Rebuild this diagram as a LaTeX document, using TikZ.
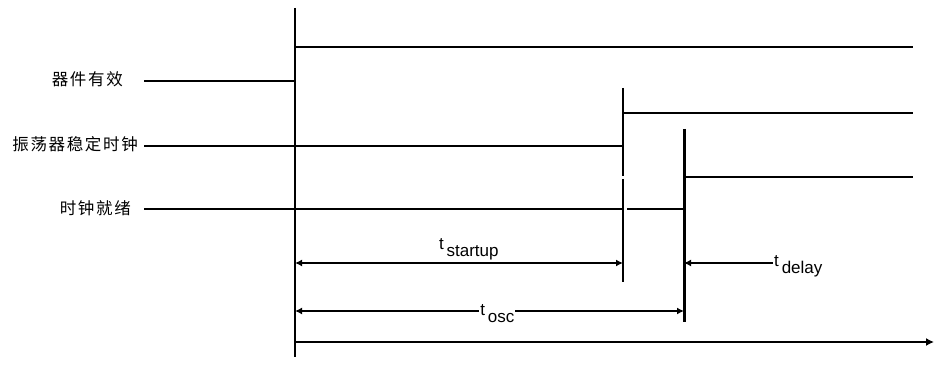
\documentclass[tikz,border=0pt]{standalone}
\usepackage{fontspec}
\setmainfont{Liberation Sans}
\newfontfamily\cjk[LetterSpace=10]{Noto Sans CJK SC}
\usetikzlibrary{arrows.meta,positioning}
\tikzset{
    signal/.style = {
        draw,
        line width=1.5pt,
        },
    edge thick/.style = {
        draw,
        line width=3pt,
        },
    dim/.style = {
        line width=1.5pt,
        {Latex[length=7pt,width=7pt]}-{Latex[length=7pt,width=7pt]},
        },
    sig label/.style = {
        font=\cjk\fontsize{16.5}{18}\selectfont,
        anchor=east,
        inner sep=0pt,
        },
    time label/.style = {
        font=\fontsize{17}{19}\selectfont,
        inner sep=1pt,
        },
}
\newcommand{\tlabel}[1]{t\,\raisebox{-7pt}{#1}}

\begin{document}
\begin{tikzpicture}[x=1pt,y=-1pt]
    \useasboundingbox (0,0) rectangle (936,371);

    % time axis
    \coordinate (t0top) at (295,8);
    \coordinate (t0bot) at (295,357);
    \coordinate (axis0) at (295,342);
    \coordinate (axisend) at (934,342);
    \draw[signal] (t0top) -- (t0bot);
    \draw[signal,-{Latex[length=8pt,width=8pt]}] (axis0) -- (axisend);

    % signal names
    \node[sig label] (dev) at (123,79) {器件有效};
    \node[sig label] (osc) at (138,144) {振荡器稳定时钟};
    \node[sig label] (rdy) at (131,208) {时钟就绪};

    % device valid
    \coordinate (devlow) at (144,81);
    \coordinate (devedge) at (295,81);
    \coordinate (devhigh) at (295,47);
    \coordinate (devend) at (913,47);
    \draw[signal] (devlow) -- (devedge);
    \draw[signal] (devhigh) -- (devend);

    % oscillator stable
    \coordinate (osclow) at (144,146);
    \coordinate (oscedge) at (623,146);
    \coordinate (osctop) at (623,88);
    \coordinate (oscgapa) at (623,176);
    \coordinate (oscgapb) at (623,179);
    \coordinate (oscbot) at (623,282);
    \coordinate (oschigh) at (623,113);
    \coordinate (oscend) at (913,113);
    \draw[signal] (osclow) -- (oscedge);
    \draw[signal] (osctop) -- (oscgapa);
    \draw[signal] (oscgapb) -- (oscbot);
    \draw[signal] (oschigh) -- (oscend);

    % clock ready
    \coordinate (rdylow) at (144,209);
    \coordinate (rdycut) at (622,209);
    \coordinate (rdyback) at (627,209);
    \coordinate (rdyedge) at (684,209);
    \coordinate (rdytop) at (684,129);
    \coordinate (rdybot) at (684,322);
    \coordinate (rdyhigh) at (684,177);
    \coordinate (rdyend) at (913,177);
    \draw[signal] (rdylow) -- (rdycut);
    \draw[signal] (rdyback) -- (rdyedge);
    \draw[edge thick] (rdytop) -- (rdybot);
    \draw[signal] (rdyhigh) -- (rdyend);

    % timings
    \coordinate (stA) at (295,263);
    \coordinate (stB) at (623,263);
    \draw[dim] (stA) -- node[time label, above=1pt, pos=0.53] (startup) {\tlabel{startup}} (stB);

    \coordinate (oscA) at (295,311);
    \coordinate (oscB) at (684,311);
    \draw[dim] (oscA) -- node[time label, fill=white, pos=0.52, yshift=-3pt] (tosc) {\tlabel{osc}} (oscB);

    \coordinate (dlA) at (773,263);
    \coordinate (dlB) at (684,263);
    \node[time label, right=0pt of dlA, anchor=west, yshift=-3pt] (delay) {\tlabel{delay}};
    \draw[line width=1.5pt,-{Latex[length=7pt,width=7pt]}] (dlA) -- (dlB);
\end{tikzpicture}
\end{document}
